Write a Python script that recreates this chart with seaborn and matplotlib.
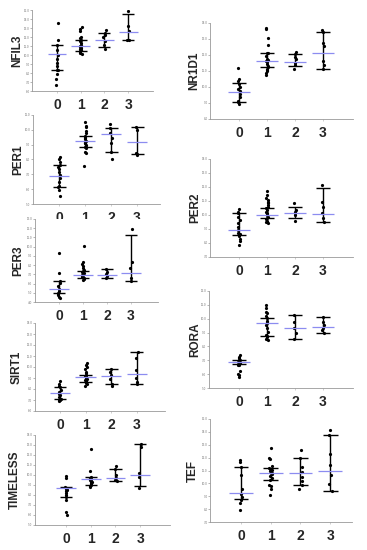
import matplotlib
matplotlib.use("Agg")
import pandas as pd
import matplotlib.pyplot as plt
import seaborn as sns

groups = [0, 1, 2, 3]

# values, one list per group; mean / lower / upper bar per group
nfil3_points = [
    [13.54, 11.70, 11.07, 10.60, 10.04, 9.57, 9.13, 8.76, 8.32, 8.28, 7.84, 7.29, 6.66],
    [13.10, 12.88, 12.62, 11.99, 11.88, 11.63, 11.51, 11.33, 11.15, 11.04, 10.96, 10.89,
     10.78, 10.67, 10.60, 10.52, 10.41, 10.30, 10.23, 10.15],
    [12.73, 12.43, 12.25, 11.99, 11.51, 11.15, 10.67],
    [14.93, 13.24, 12.62, 11.70, 11.63],
]
nfil3_mean = [10.15, 10.96, 11.70, 12.54]
nfil3_low = [8.28, 10.41, 10.89, 11.63]
nfil3_high = [11.07, 11.63, 12.43, 14.57]

per1_points = [
    [8.15, 8.01, 7.85, 7.63, 7.47, 7.34, 7.18, 6.96, 6.73, 6.51, 6.21, 6.12, 5.94, 5.54],
    [10.55, 10.26, 10.17, 9.94, 9.76, 9.58, 9.49, 9.43, 9.36, 9.27, 9.20, 9.13, 9.09,
     8.98, 8.87, 8.82, 8.75, 8.53, 8.46, 7.56],
    [10.39, 10.10, 9.76, 9.43, 9.09, 8.53, 8.01],
    [10.21, 9.99, 8.46, 8.37, 8.30],
]
per1_mean = [6.91, 9.27, 9.70, 9.20]
per1_low = [6.12, 8.82, 8.53, 8.35]
per1_high = [7.63, 9.58, 10.10, 10.21]

per3_points = [
    [9.29, 7.13, 6.30, 6.05, 5.69, 5.44, 5.15, 4.97, 4.86, 4.72, 4.50, 4.43],
    [10.12, 8.39, 8.10, 7.85, 7.67, 7.49, 7.31, 7.24, 7.13, 7.02, 6.95, 6.88, 6.77,
     6.66, 6.59, 6.52, 6.41],
    [7.60, 7.24, 7.02, 6.77, 6.59],
    [11.91, 8.39, 7.67, 6.59, 6.23],
]
per3_mean = [5.44, 6.88, 6.95, 7.13]
per3_low = [4.97, 6.59, 6.59, 6.23]
per3_high = [6.23, 7.31, 7.60, 11.27]

sirt1_points = [
    [8.72, 8.50, 8.26, 8.14, 7.89, 7.74, 7.59, 7.44, 7.28, 7.13, 7.04, 6.98, 6.92],
    [10.34, 10.18, 9.97, 9.79, 9.57, 9.42, 9.27, 9.18, 9.11, 9.05, 8.96, 8.87, 8.81,
     8.75, 8.66, 8.56, 8.44, 8.26],
    [9.79, 9.57, 9.27, 8.87, 8.44, 8.26],
    [11.34, 10.79, 9.73, 8.96, 8.66, 8.50],
]
sirt1_mean = [7.68, 9.05, 9.21, 9.33]
sirt1_low = [7.07, 8.66, 8.50, 8.50]
sirt1_high = [8.20, 9.27, 9.79, 11.34]

timeless_points = [
    [9.93, 9.73, 8.83, 8.73, 8.60, 8.50, 8.40, 8.17, 8.00, 7.83, 7.50, 6.33, 6.00],
    [12.60, 10.40, 9.83, 9.73, 9.67, 9.60, 9.50, 9.40, 9.33, 9.27, 9.17, 9.07, 9.00,
     8.93, 8.83],
    [10.93, 10.60, 10.00, 9.73, 9.50, 9.40],
    [13.07, 12.83, 10.17, 9.83, 8.67],
]
timeless_mean = [8.67, 9.60, 9.73, 10.00]
timeless_low = [7.77, 9.00, 9.40, 8.93]
timeless_high = [8.83, 9.83, 10.60, 13.10]

nr1d1_points = [
    [11.21, 10.53, 10.38, 10.17, 9.97, 9.86, 9.76, 9.55, 9.35, 9.14, 9.04, 8.93],
    [13.69, 13.63, 13.07, 12.60, 12.14, 12.10, 11.93, 11.77, 11.69, 11.62, 11.56, 11.42,
     11.31, 11.25, 11.15, 11.06, 11.00, 10.90, 10.73],
    [12.20, 12.04, 11.89, 11.73, 11.52, 11.35, 11.11],
    [13.59, 13.42, 12.72, 12.55, 11.62, 11.35, 11.15],
]
nr1d1_mean = [9.66, 11.60, 11.56, 12.14]
nr1d1_low = [9.04, 11.25, 11.31, 11.15]
nr1d1_high = [10.24, 12.12, 12.08, 13.42]

per2_points = [
    [10.43, 10.24, 10.12, 9.88, 9.64, 9.40, 9.16, 8.92, 8.75, 8.61, 8.51, 8.32, 8.13, 7.89],
    [11.68, 11.44, 11.24, 11.08, 10.96, 10.84, 10.72, 10.60, 10.48, 10.36, 10.24, 10.12,
     10.05, 10.00, 9.88, 9.81, 9.71, 9.57, 9.47, 9.40],
    [10.84, 10.36, 10.24, 10.12, 10.00, 9.57],
    [12.16, 10.96, 10.60, 10.12, 9.76, 9.47],
]
per2_mean = [8.94, 9.97, 10.17, 10.07]
per2_low = [8.56, 9.76, 9.81, 9.47]
per2_high = [10.17, 10.53, 10.60, 11.96]

rora_points = [
    [7.37, 7.25, 7.13, 7.05, 7.00, 6.93, 6.88, 6.84, 6.76, 6.69, 6.64, 6.21, 6.04, 5.92, 5.80],
    [10.99, 10.80, 10.51, 10.39, 10.22, 10.02, 9.83, 9.73, 9.66, 9.54, 9.30, 9.06, 8.82,
     8.74, 8.70, 8.57, 8.45],
    [10.27, 9.73, 9.35, 8.94, 8.53],
    [10.14, 9.78, 9.54, 9.35, 9.18, 8.94],
]
rora_mean = [6.88, 9.66, 9.35, 9.42]
rora_low = [6.76, 8.74, 8.53, 8.94]
rora_high = [7.05, 10.02, 10.27, 10.14]

tef_points = [
    [11.81, 11.68, 11.29, 10.64, 9.60, 9.21, 8.95, 8.69, 8.51, 7.91],
    [12.71, 11.99, 11.88, 11.36, 11.21, 11.10, 11.03, 10.95, 10.84, 10.77, 10.69, 10.58,
     10.43, 10.25, 9.91, 9.81, 9.60, 9.13],
    [12.58, 11.94, 11.29, 10.90, 10.51, 10.17, 9.86, 9.55],
    [14.14, 13.75, 12.32, 11.42, 10.64, 9.99, 9.39],
]
tef_mean = [9.29, 10.82, 10.77, 11.00]
tef_low = [8.77, 10.25, 9.86, 9.39]
tef_high = [11.29, 11.21, 11.94, 13.75]

# y tick range per gene (first tick, number of ticks, step 1)
y_ticks = {
    "NFIL3": (6, 10), "PER1": (5, 7), "PER3": (4, 10), "SIRT1": (6, 9),
    "TIMELESS": (5, 10), "NR1D1": (8, 7), "PER2": (7, 8), "RORA": (5, 8), "TEF": (7, 9),
}

panels = [
    ("NFIL3", nfil3_points, nfil3_mean, nfil3_low, nfil3_high),
    ("PER1", per1_points, per1_mean, per1_low, per1_high),
    ("PER3", per3_points, per3_mean, per3_low, per3_high),
    ("SIRT1", sirt1_points, sirt1_mean, sirt1_low, sirt1_high),
    ("TIMELESS", timeless_points, timeless_mean, timeless_low, timeless_high),
    ("NR1D1", nr1d1_points, nr1d1_mean, nr1d1_low, nr1d1_high),
    ("PER2", per2_points, per2_mean, per2_low, per2_high),
    ("RORA", rora_points, rora_mean, rora_low, rora_high),
    ("TEF", tef_points, tef_mean, tef_low, tef_high),
]

# pixel layout: left, right, top, bottom, x of group 0, group spacing, x of y label
layout = {
    "NFIL3": (32, 153, 10, 91, 57, 23.7, 17),
    "PER1": (33, 160, 115, 204, 59, 26.0, 18),
    "PER3": (35, 158, 219, 302, 59, 24.0, 18),
    "SIRT1": (35, 165, 323, 411, 60, 25.6, 17),
    "TIMELESS": (35, 170, 435, 525, 66, 24.7, 15),
    "NR1D1": (210, 353, 23, 119, 239, 28.0, 194),
    "PER2": (210, 353, 159, 257, 239, 28.0, 195),
    "RORA": (209, 353, 291, 388, 239, 28.0, 195),
    "TEF": (210, 352, 419, 522, 241, 29.7, 193),
}

W, H = 367, 550
sns.set_style("ticks")
plt.rcParams["font.family"] = ["Liberation Sans", "DejaVu Sans"]

fig = plt.figure(figsize=(W / 100, H / 100), dpi=100)

for gene, pts, mean, low, high in panels:
    left, right, top, bottom, c0, sp, lab_x = layout[gene]
    ax = fig.add_axes([left / W, 1 - bottom / H, (right - left) / W, (bottom - top) / H])

    df = pd.DataFrame({
        "group": [g for g, vals in zip(groups, pts) for _ in vals],
        "value": [v for vals in pts for v in vals],
    })
    sns.stripplot(data=df, x="group", y="value", order=groups, ax=ax,
                  color="black", size=2.3, jitter=0.05, linewidth=0)

    # error bars with caps
    ax.vlines(groups, low, high, color="black", lw=1.0, zorder=3)
    for g, lo, hi in zip(groups, low, high):
        ax.hlines([lo, hi], g - 0.25, g + 0.25, color="black", lw=1.0, zorder=3)
    # mean line
    ax.hlines(mean, [g - 0.4 for g in groups], [g + 0.4 for g in groups],
              color="#8c8cf0", lw=0.9, zorder=4)

    base, n = y_ticks[gene]
    ticks = [base + i for i in range(n)]
    ax.set_ylim(ticks[0], ticks[-1])
    ax.set_yticks(ticks)
    ax.set_yticklabels([f"{t:.1f}" for t in ticks], fontsize=2.2, color="#777777")
    ax.set_xlim((left - c0) / sp, (right - c0) / sp)
    ax.set_xticks(groups)
    ax.set_xticklabels([str(g) for g in groups], fontsize=10, fontweight="bold")
    ax.tick_params(axis="y", length=1.5, width=0.5, color="#999999", pad=0.3)
    ax.tick_params(axis="x", length=1.2, width=0.5, color="#bbbbbb", pad=4)
    ax.set_xlabel("")
    ax.set_ylabel("")
    for side in ["top", "right"]:
        ax.spines[side].set_visible(False)
    for side in ["left", "bottom"]:
        ax.spines[side].set_color("#999999")
        ax.spines[side].set_linewidth(0.6)
    ax.set_facecolor("white")

    fig.text(lab_x / W, 1 - (top + bottom) / 2 / H, gene, rotation=90,
             ha="center", va="center", fontsize=8.5, fontweight="bold")

fig.savefig("out.png", dpi=100, facecolor="white")
